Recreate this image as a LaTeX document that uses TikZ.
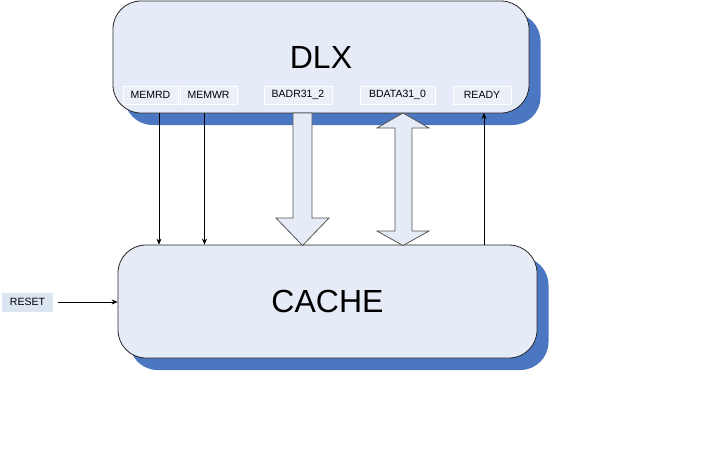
\documentclass[tikz,border=0pt]{standalone}
\usepackage{fontspec}
\setmainfont{Liberation Sans}
\usetikzlibrary{shadows,arrows.meta}
\definecolor{boxfill}{HTML}{E6ECF7}
\definecolor{lblfill}{HTML}{EAEFF8}
\definecolor{shblue}{HTML}{4A76C2}
\definecolor{rstfill}{HTML}{DCE5F2}
\definecolor{arrline}{HTML}{555555}
\begin{document}
\begin{tikzpicture}[x=1pt,y=-1pt,
  bigbox/.style={draw=black!85,line width=0.8pt,fill=boxfill,rounded corners=28pt,
    inner sep=0pt,font=\fontsize{32}{36}\selectfont,
    drop shadow={shadow xshift=11.5pt,shadow yshift=-12pt,fill=shblue,opacity=1}},
  sig/.style={draw=white,line width=0.6pt,fill=lblfill,inner sep=0pt,minimum height=18pt,
    font=\fontsize{10.5}{12}\selectfont},
  conn/.style={line width=0.6pt,-{Stealth[length=6pt,width=5pt]}},
  blockarr/.style={draw=arrline,line width=0.8pt,fill=boxfill,line join=miter}]
\useasboundingbox (0,0) rectangle (720,450);
\fill[white] (0,0) rectangle (720,450);
% main blocks
\node[bigbox,minimum width=416pt,minimum height=112pt] (dlx) at (321,57) {DLX};
\node[bigbox,minimum width=419pt,minimum height=113pt] (cache) at (327.5,301.5) {\raisebox{-3pt}{CACHE}};
% signal labels
\node[sig,minimum width=55pt] (memrd) at (150.5,95) {MEMRD};
\node[sig,minimum width=57pt] (memwr) at (208.5,95) {MEMWR};
\node[sig,minimum width=68pt] (badr) at (298,95) {BADR31\_2};
\node[sig,minimum width=75pt] (bdata) at (397.5,95) {BDATA31\_0};
\node[sig,minimum width=58pt] (ready) at (482,95) {READY};
\node[fill=rstfill,inner sep=0pt,minimum width=51pt,minimum height=19pt,
  font=\fontsize{10.5}{12}\selectfont] (reset) at (27.5,302) {RESET};
% connector coordinates
\coordinate (rd) at (159,113);
\coordinate (wr) at (204.5,113);
\coordinate (rdy) at (484,113);
\coordinate (rs) at (58,302);
\draw[conn] (rd) -- (rd |- cache.north);
\draw[conn] (wr) -- (wr |- cache.north);
\draw[conn] (rdy |- cache.north) -- (rdy);
\draw[conn] (rs) -- (rs -| cache.west);
% block arrow BADR31_2 (down)
\draw[blockarr] (293,113) -- (312,113) -- (312,218) -- (329,218) -- (302.5,245.5)
  -- (276,218) -- (293,218) -- cycle;
% double block arrow BDATA31_0
\draw[blockarr] (403,113) -- (429,128) -- (412,128) -- (412,231) -- (429,231)
  -- (403,245.5) -- (377,231) -- (395,231) -- (395,128) -- (377,128) -- cycle;
\end{tikzpicture}
\end{document}
